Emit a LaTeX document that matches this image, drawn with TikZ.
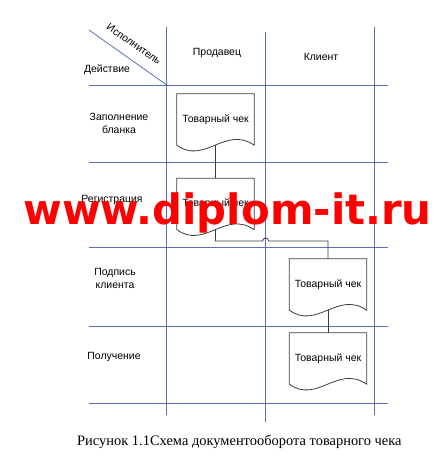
\documentclass[tikz,border=0pt]{standalone}
\usepackage{fontspec}
\setmainfont{Liberation Sans}
\newfontfamily\capfont{Liberation Serif}
\newfontfamily\wmfont{DejaVu Sans}
\usetikzlibrary{calc}
\definecolor{gridblue}{RGB}{84,114,180}
\definecolor{docgray}{RGB}{60,60,60}
\tikzset{
  gridline/.style={draw=gridblue, line width=0.8bp},
  docbox/.style={rectangle, minimum width=77bp, minimum height=51bp, inner sep=0pt, font=\fontsize{10.5}{12}\selectfont},
  docline/.style={draw=docgray, line width=0.8bp},
  conn/.style={draw=docgray, line width=0.8bp},
  lbl/.style={inner sep=0pt, align=center, font=\fontsize{10.5}{13}\selectfont},
}
\newcommand\docoutline[1]{%
  \draw[docline] (#1.north west) -- (#1.north east) -- (#1.south east)
    .. controls ($(#1.south east)+(-29,-20)$) and ($(#1.south west)+(28,20)$) .. (#1.south west) -- cycle;}
\begin{document}
\begin{tikzpicture}[x=1bp,y=-1bp]
\useasboundingbox (0,0) rectangle (445,460);
% grid
\foreach \yy in {85,162,247,326,403} \draw[gridline] (89,\yy) -- (388,\yy);
\draw[gridline] (166.7,27) -- (166.7,415);
\draw[gridline] (265.7,32) -- (265.7,422);
\draw[gridline] (374.7,27) -- (374.7,415);
\draw[gridline] (89,30) -- (166.7,85);
% headers
\node[lbl, rotate=-35] (isp) at (134,44) {Исполнитель};
\node[lbl] (dei) at (107,70) {Действие};
\node[lbl] (prod) at (217,53) {Продавец};
\node[lbl] (kli) at (321,57) {Клиент};
% row labels
\node[lbl] (r1) at (119,123) {Заполнение\\бланка};
\node[lbl] (r2) at (112,200) {Регистрация};
\node[lbl] (r3) at (115,278) {Подпись\\клиента};
\node[lbl] (r4) at (114,357) {Получение};
% documents
\node[docbox] (d1) at (215.5,119.5) {\raisebox{2.5bp}{Товарный чек}};
\node[docbox] (d2) at (215.5,204) {\raisebox{2.5bp}{Товарный чек}};
\node[docbox] (d3) at (328,284.5) {\raisebox{2.5bp}{Товарный чек}};
\node[docbox] (d4) at (328,358.5) {\raisebox{2.5bp}{Товарный чек}};
\docoutline{d1}
\docoutline{d2}
\docoutline{d3}
\docoutline{d4}
% connectors
\coordinate (hop) at (265.7,241);
\draw[conn] (d1.south) -- (d2.north);
\draw[conn] (d2.south) |- ([xshift=-3bp]hop) arc[start angle=180, end angle=0, radius=3bp] -| (d3.north);
\draw[conn] (d3.south) -- (d4.north);
% caption
\node[anchor=base west, inner sep=0pt, font=\capfont\fontsize{14.5}{16}\selectfont] (cap) at (77,445.7) {Рисунок 1.1Схема документооборота товарного чека};
% watermark
\node[anchor=base, inner sep=0pt, text=red, font=\wmfont\bfseries\fontsize{42}{46}\selectfont] (wm) at (227.5,225) {www.diplom-it.ru};
\end{tikzpicture}
\end{document}
